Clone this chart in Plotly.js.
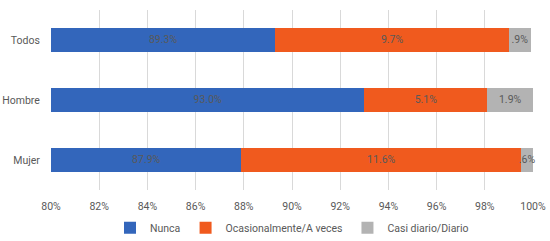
<!DOCTYPE html>
<html>
<head>
<meta charset="utf-8">
<script src="https://cdn.plot.ly/plotly-3.0.1.min.js"></script>
<style>html,body{margin:0;padding:0;background:#fff;}#chart{width:550px;height:241px;}</style>
</head>
<body>
<div id="chart"></div>
<script>
var categories = ["Todos", "Hombre", "Mujer"];
var nunca = [89.3, 93.0, 87.9];
var ocasional = [9.7, 5.1, 11.6];
var diario = [0.9, 1.9, 0.6];
var seriesNames = ["Nunca", "Ocasionalmente/A veces", "Casi diario/Diario"];
var tickVals = [80, 82, 84, 86, 88, 90, 92, 94, 96, 98, 100];
var xRange = [80, 100];

function fmt(v) {
  var s = v.toFixed(1);
  if (s.indexOf("0.") === 0) s = s.slice(1);
  return s + "%";
}

var colors = ["#3366BB", "#F05A1E", "#B3B3B3"];
var series = [nunca, ocasional, diario];
var data = series.map(function (vals, i) {
  return {
    type: "bar",
    orientation: "h",
    name: seriesNames[i],
    y: categories,
    x: vals,
    marker: {color: colors[i]},
    hoverinfo: "none"
  };
});

// Data labels: centred on the visible part of each stacked segment
var lx = [], ly = [], lt = [];
categories.forEach(function (c, k) {
  var start = 0;
  series.forEach(function (vals) {
    var end = start + vals[k];
    var a = Math.max(start, xRange[0]), b = Math.min(end, xRange[1]);
    lx.push((a + b) / 2);
    ly.push(c);
    lt.push(fmt(vals[k]));
    start = end;
  });
});
data.push({
  type: "scatter",
  mode: "text",
  x: lx,
  y: ly,
  text: lt,
  textposition: "middle center",
  textfont: {color: "#595959", size: 10.5},
  showlegend: false,
  hoverinfo: "none",
  cliponaxis: false
});

var layout = {
  width: 550,
  height: 241,
  margin: {l: 51, r: 17, t: 10, b: 51, autoexpand: false},
  barmode: "stack",
  bargap: 0.6,
  paper_bgcolor: "#fff",
  plot_bgcolor: "#fff",
  font: {family: "Roboto, 'Liberation Sans', sans-serif", size: 10.5, color: "#595959"},
  xaxis: {
    range: xRange,
    tickvals: tickVals,
    ticktext: tickVals.map(function (v) { return v + "%"; }),
    showgrid: true,
    gridcolor: "#D9D9D9",
    zeroline: false,
    showline: false,
    ticks: "outside",
    ticklen: 6,
    tickcolor: "rgba(0,0,0,0)",
    tickfont: {size: 10.5, color: "#595959"},
    automargin: false
  },
  yaxis: {
    categoryorder: "array",
    categoryarray: categories,
    autorange: "reversed",
    showgrid: false,
    zeroline: false,
    showline: false,
    ticks: "outside",
    ticklen: 8,
    tickcolor: "rgba(0,0,0,0)",
    tickfont: {size: 10.5, color: "#595959"},
    automargin: false
  },
  showlegend: true,
  legend: {
    orientation: "h",
    x: 0.5,
    xanchor: "center",
    y: -0.21,
    yanchor: "middle",
    font: {size: 10.5, color: "#595959"},
    traceorder: "normal",
    itemwidth: 30
  }
};

Plotly.newPlot("chart", data, layout, {displayModeBar: false, staticPlot: true});
</script>
</body>
</html>
